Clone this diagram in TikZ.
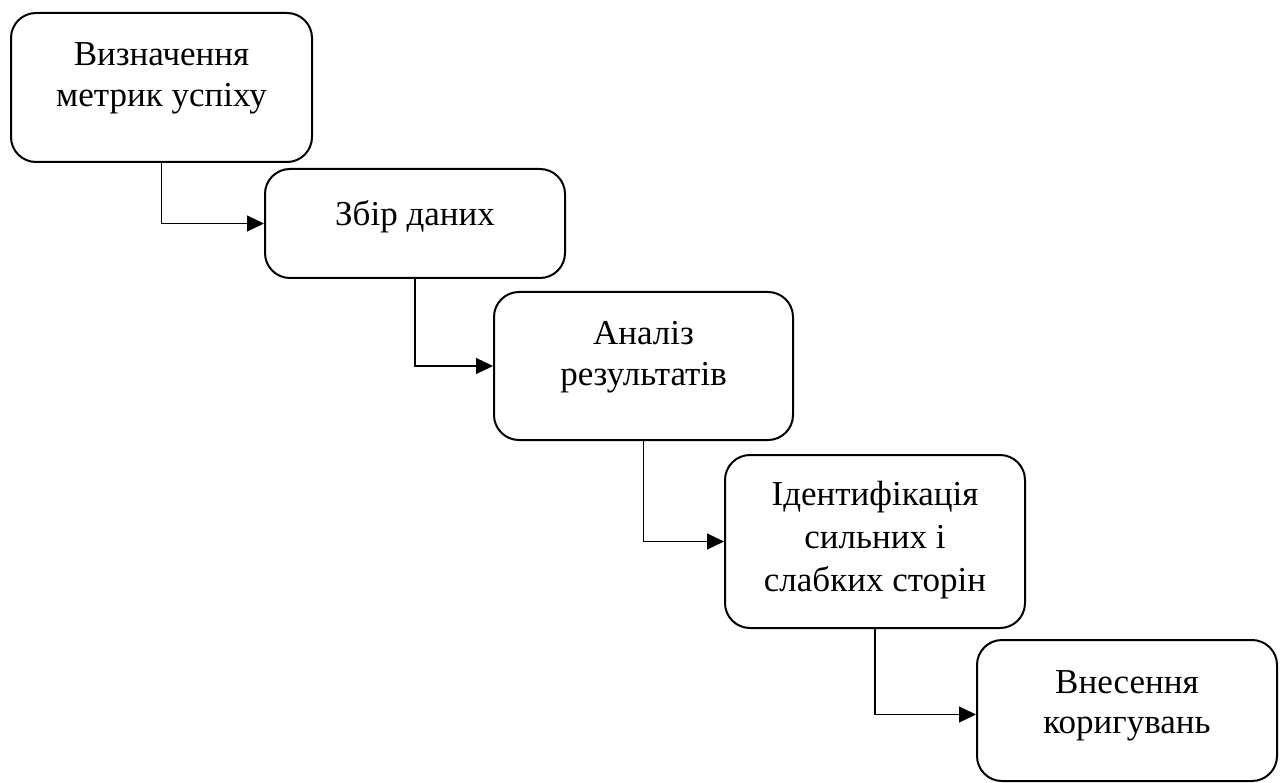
\documentclass[tikz,border=0pt]{standalone}
\usepackage{fontspec}
\setmainfont{Liberation Serif}
\usetikzlibrary{arrows.meta,calc}
\begin{document}
\begin{tikzpicture}[x=1pt,y=-1pt,
  stepbox/.style={draw, line width=2pt, rounded corners=25pt, inner sep=0pt},
  steptext/.style={anchor=north, inner sep=0pt, align=center, font=\fontsize{35}{41}\selectfont},
  flow/.style={line width=1.2pt, -{Triangle[length=17pt,width=16pt]}}]
\useasboundingbox (0,0) rectangle (1285,783);
\node[stepbox, minimum width=301pt, minimum height=149pt] (b1) at (161.5,87.5) {};
\node[stepbox, minimum width=300pt, minimum height=109pt] (b2) at (415,223.5) {};
\node[stepbox, minimum width=299pt, minimum height=148pt] (b3) at (643.5,366) {};
\node[stepbox, minimum width=300pt, minimum height=173pt] (b4) at (875,541.5) {};
\node[stepbox, minimum width=300pt, minimum height=141pt] (b5) at (1127,710.5) {};
\node[steptext] (t1) at ($(b1.north)+(0,30)$) {Визначення\\метрик успіху};
\node[steptext] (t2) at ($(b2.north)+(0,32)$) {Збір даних};
\node[steptext] (t3) at ($(b3.north)+(0,30)$) {Аналіз\\результатів};
\node[steptext, font=\fontsize{35}{43}\selectfont] (t4) at ($(b4.north)+(0,27)$) {Ідентифікація\\сильних і\\слабких сторін};
\node[steptext, font=\fontsize{35}{40}\selectfont] (t5) at ($(b5.north)+(0,31)$) {Внесення\\коригувань};
\draw[flow] (b1.south) |- (b2.west);
\draw[flow] (b2.south) |- (b3.west);
\draw[flow] (b3.south) |- (b4.west);
\draw[flow] (b4.south) |- ([yshift=-4pt]b5.west);
\end{tikzpicture}
\end{document}
